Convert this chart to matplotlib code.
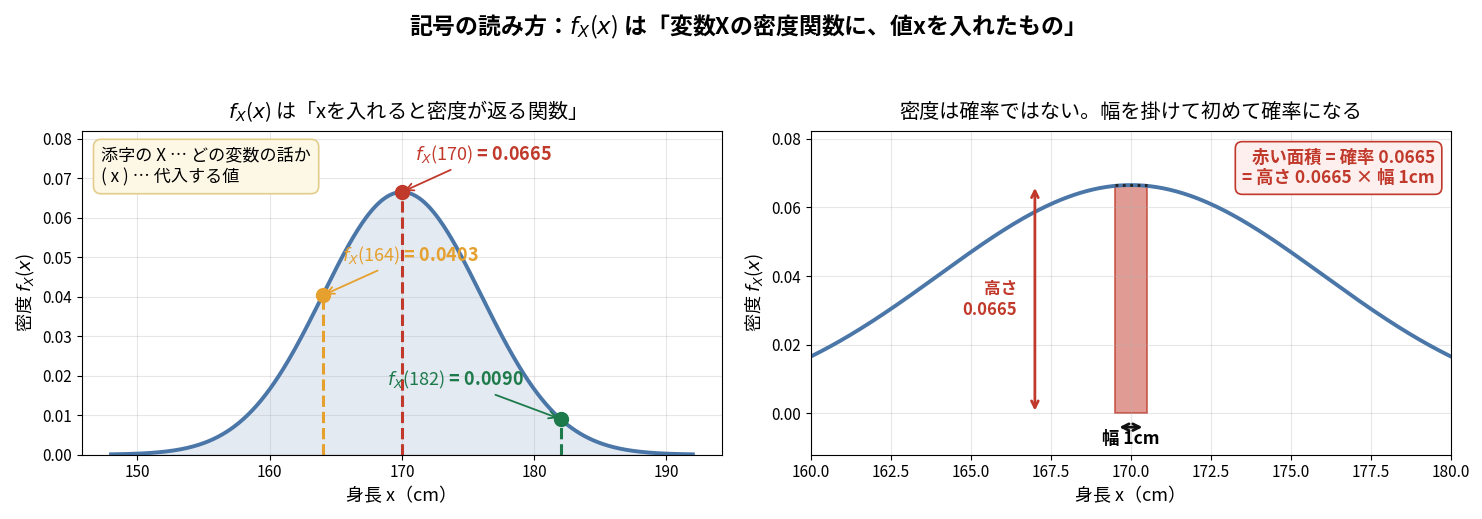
import numpy as np
import matplotlib.pyplot as plt

plt.rcParams['font.family'] = ['Noto Sans CJK JP', 'DejaVu Sans']
plt.rcParams['mathtext.fontset'] = 'custom'
plt.rcParams['mathtext.rm'] = 'Noto Sans CJK JP'
plt.rcParams['mathtext.it'] = 'DejaVu Sans:italic'
plt.rcParams['axes.unicode_minus'] = False
plt.rcParams['xtick.labelsize'] = 11
plt.rcParams['ytick.labelsize'] = 11

# 正規分布 N(170, 6^2)
mu = 170
sigma = 6
x_range = (148, 192)
points = [164, 170, 182]
point_colors = ['#e5a02e', '#c0392b', '#1d7a4b']
label_pos = [(165.5, 0.049), (171, 0.0745), (168.9, 0.0175)]
width = 1.0

curve_color = '#4a76a8'
red = '#c0392b'


def pdf(x):
    return np.exp(-(x - mu) ** 2 / (2 * sigma ** 2)) / (sigma * np.sqrt(2 * np.pi))


fig, axes = plt.subplots(1, 2, figsize=(14.82, 5.19), dpi=100)
fig.suptitle(r'記号の読み方：$f_X(x)$ は「変数Xの密度関数に、値xを入れたもの」',
             fontsize=16.5, fontweight='bold', y=0.975)

# 左
ax = axes[0]
xs = np.linspace(x_range[0], x_range[1], 400)
ax.plot(xs, pdf(xs), color=curve_color, lw=2.8)
ax.fill_between(xs, pdf(xs), color=curve_color, alpha=0.15)
for p, c, (tx, ty) in zip(points, point_colors, label_pos):
    v = pdf(p)
    ax.plot([p, p], [0, v], color=c, lw=2.2, ls='--')
    ax.plot(p, v, 'o', color=c, ms=10, zorder=5)
    ax.annotate(r'$f_X(%d)$ = %.4f' % (p, v), xy=(p, v), xytext=(tx, ty),
                color=c, fontsize=13, fontweight='bold',
                arrowprops=dict(arrowstyle='->', color=c, lw=1.3))
ax.text(0.03, 0.95, '添字の X … どの変数の話か\n( x ) … 代入する値', transform=ax.transAxes,
        fontsize=12.3, va='top', ha='left',
        bbox=dict(boxstyle='round,pad=0.45', fc='#fdf8e6', ec='#e3cd8a', lw=1.2))
ax.set_ylim(0, 0.082)
ax.set_xlabel('身長 x（cm）', fontsize=13)
ax.set_ylabel(r'密度 $f_X(x)$', fontsize=13)
ax.set_title(r'$f_X(x)$ は「xを入れると密度が返る関数」', fontsize=14.5, pad=9)
ax.grid(alpha=0.3)

# 右
ax = axes[1]
xs2 = np.linspace(160, 180, 400)
h = pdf(mu)
ax.plot(xs2, pdf(xs2), color=curve_color, lw=2.8)
ax.bar(mu, h, width=width, color='#d9837a', alpha=0.8, edgecolor=red, lw=1.2)
ax.plot([mu - width / 2, mu + width / 2], [h, h], color='#222222', ls=':', lw=2)
ax.annotate('', xy=(167, h), xytext=(167, 0),
            arrowprops=dict(arrowstyle='<->', color=red, lw=2, mutation_scale=12))
ax.text(166.45, h / 2, '高さ\n0.0665', color=red, fontsize=12, fontweight='bold',
        ha='right', va='center')
ax.annotate('', xy=(mu - 0.45, -0.004), xytext=(mu + 0.45, -0.004),
            arrowprops=dict(arrowstyle='<->', color='#111111', lw=2, mutation_scale=12))
ax.text(mu, -0.0075, '幅 1cm', fontsize=12.5, fontweight='bold', ha='center', va='center')
ax.text(0.975, 0.945, '赤い面積 = 確率 0.0665\n= 高さ 0.0665 × 幅 1cm', transform=ax.transAxes,
        color=red, fontsize=12.5, fontweight='bold', ha='right', va='top',
        bbox=dict(boxstyle='round,pad=0.4', fc='#fcefee', ec=red, lw=1.2))
ax.set_xlim(160, 180)
ax.set_ylim(-0.012, 0.0823)
ax.set_xlabel('身長 x（cm）', fontsize=13)
ax.set_ylabel(r'密度 $f_X(x)$', fontsize=13)
ax.set_title('密度は確率ではない。幅を掛けて初めて確率になる', fontsize=14.5, pad=9)
ax.grid(alpha=0.3)

plt.subplots_adjust(left=0.0553, right=0.979, top=0.748, bottom=0.124, wspace=0.139)
plt.savefig('out.png', dpi=100)
